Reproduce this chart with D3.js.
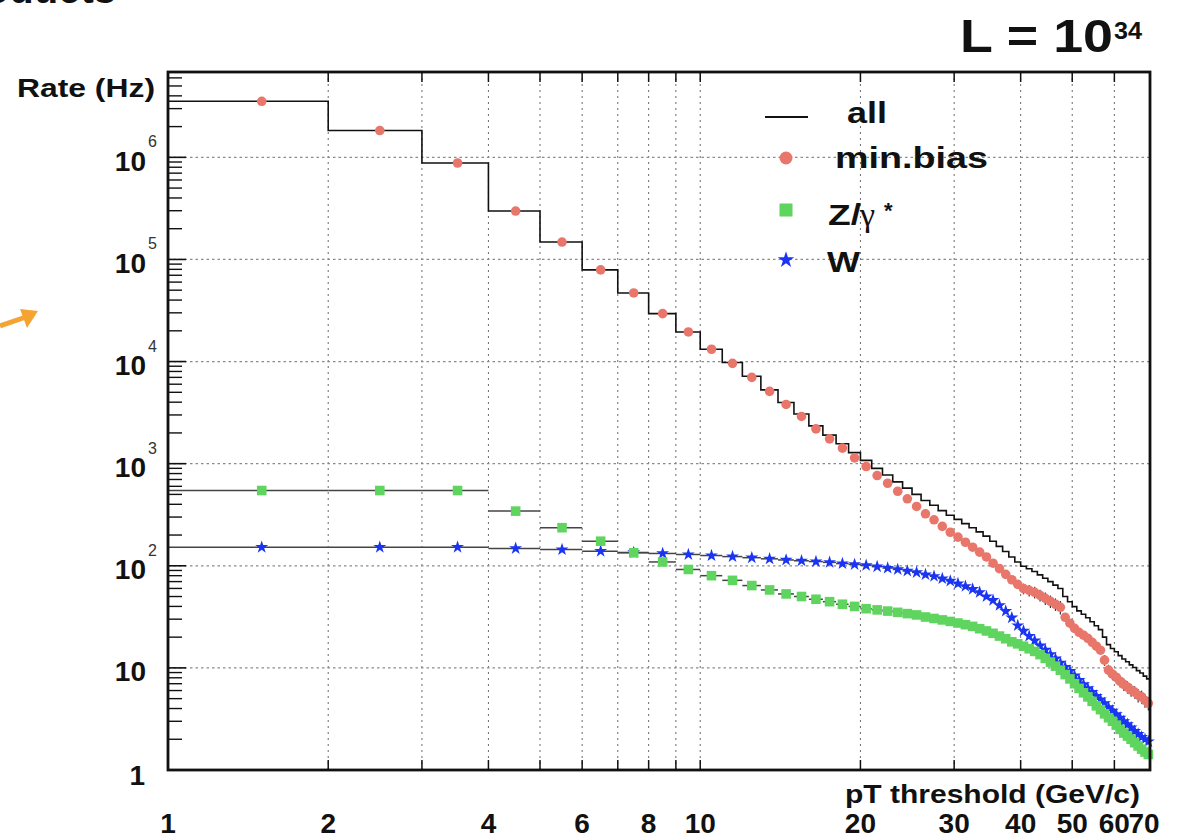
<!DOCTYPE html>
<html><head><meta charset="utf-8">
<script src="https://cdn.jsdelivr.net/npm/d3@7"></script>
<style>
body{margin:0;background:#fff;}
svg{display:block;font-family:"Liberation Sans",Arial,Helvetica,sans-serif;}
</style>
</head><body>
<svg id="c" width="1184" height="838"></svg>
<script>
// ---- data ----
const ptBinCenters = [1.5,2.5,3.5,4.5,5.5,6.5,7.5,8.5,9.5,10.5,
  11.5,12.5,13.5,14.5,15.5,16.5,17.5,18.5,19.5,20.5,
  21.5,22.5,23.5,24.5,25.5,26.5,27.5,28.5,29.5,30.5,
  31.5,32.5,33.5,34.5,35.5,36.5,37.5,38.5,39.5,40.5,
  41.5,42.5,43.5,44.5,45.5,46.5,47.5,48.5,49.5,50.5,
  51.5,52.5,53.5,54.5,55.5,56.5,57.5,58.5,59.5,60.5,
  61.5,62.5,63.5,64.5,65.5,66.5,67.5,68.5,69.5];
const allRate = [3.54e6,1.83e6,8.8e5,2.98e5,1.48e5,7.9e4,4.7e4,2.95e4,1.95e4,1.32e4,
  9800,7180,5275,3967,3062,2347,1902,1567,1283,1076,
  900,774,664,576,500,436,391,347,312,285,
  259,236,215,195,174,155,138,122,109,99,
  93.4,88,81.4,75.4,69.9,64.7,59.9,50.1,44.5,39.8,
  36.2,33.5,31,28.3,25.9,23.7,20,16.9,15.5,14.4,
  13.2,12.2,11.5,10.7,10.1,9.4,8.9,8.3,7.8];
const minBiasRate = [3.54e6,1.83e6,8.8e5,2.98e5,1.48e5,7.9e4,4.7e4,2.95e4,1.95e4,1.32e4,
  9600,7000,5100,3800,2900,2190,1750,1420,1140,937,
  765,643,537,453,381,323,282,243,213,191,
  170,152,136,122,106,93.7,82.4,73,65.8,59.7,
  57.5,55,51.4,48,44.9,42,39.2,31.3,27.4,24.4,
  22.3,20.9,19.5,17.8,16.3,14.9,11.9,9.5,8.7,8.1,
  7.4,6.9,6.5,6.05,5.8,5.4,5.2,4.8,4.5];
// relative statistical error on min.bias (visible only where the hatch shows)
const minBiasRelErr = [0,0,0,0,0,0,0,0,0,0,
  0,0,0,0,0,0,0,0,0,0,
  0,0,0,0,0,0,0,0,0,0,
  0,0,0,0,0,0,0,0,0,0.12,
  0.13,0.13,0.13,0.14,0.14,0.14,0.15,0,0,0,
  0,0,0,0,0,0,0.12,0.13,0.13,0.13,
  0.13,0.14,0.14,0.14,0.14,0.15,0.15,0.15,0.15];
const zGammaRate = [546,546,546,343,236,174,134,109,92,80,
  72,64,58,53,50,47,44.5,42,40,38,
  37,36,35,34,33,31.5,30.5,29.5,28.5,27.5,
  26.5,25.5,24.2,23,21.8,20.5,19.3,18,17.2,16.3,
  15.4,14.5,13.5,12.4,11.4,10.4,9.5,8.6,7.8,7.0,
  6.3,5.7,5.2,4.7,4.25,3.9,3.55,3.25,3.0,2.75,
  2.5,2.3,2.15,2.0,1.85,1.72,1.6,1.5,1.42];
const wRate = [152,152,152,148,144,139,135,132,129,126,
  123,120,117,114,112,110,108,105,103,101,
  98,95,92,89,86,82,79,75,71,67,
  63,59,55,50,46,41,36,31,26,23,
  20.5,18.5,16.5,15,13.6,12.3,11.2,10.2,9.3,8.4,
  7.6,6.9,6.3,5.8,5.3,4.9,4.5,4.1,3.8,3.5,
  3.25,3.0,2.8,2.6,2.4,2.25,2.1,2.0,1.9];
const xTickLabels = [1,2,4,6,8,10,20,30,40,50,60,70];
const xGridValues = [2,3,4,5,6,7,8,9,10,20,30,40,50,60];
const yDecades = [1,10,100,1e3,1e4,1e5,1e6];
const binHalfWidth = 0.5;

// ---- layout ----
const svg = d3.select("#c");
const X0 = 168, X1 = 1150, Y0 = 72, Y1 = 770;
const x = d3.scaleLog().domain([1, 70]).range([X0, X1]);
const y = d3.scaleLog().domain([1, 6.85e6]).range([Y1, Y0]);

const col = {minb: "#e8766a", z: "#5fd55f", w: "#1a34f5"};

// background slide fragments
svg.append("text").attr("x", 116).attr("y", 3).attr("text-anchor", "end")
  .attr("font-size", 40).attr("font-weight", "bold").attr("fill", "#111").text("roducts");
svg.append("path").attr("d", "M0,326 L26,317").attr("stroke", "#f6a431")
  .attr("stroke-width", 5).attr("fill", "none");
svg.append("path").attr("d", "M38,311 L20,309 L27,328 Z").attr("fill", "#f6a431");

// grid
const grid = svg.append("g");
xGridValues.forEach(v => {
  grid.append("line").attr("x1", x(v)).attr("x2", x(v)).attr("y1", Y0).attr("y2", Y1)
    .attr("stroke", "#6a6a6a").attr("stroke-width", 1).attr("stroke-dasharray", "2,4");
});
yDecades.slice(1).forEach(v => {
  grid.append("line").attr("x1", X0).attr("x2", X1).attr("y1", y(v)).attr("y2", y(v))
    .attr("stroke", "#8a8a8a").attr("stroke-width", 1.2).attr("stroke-dasharray", "2.5,3");
});

// ticks
const ticks = svg.append("g").attr("stroke", "#111");
for (let d = 0; d <= 6; d++) {
  const base = Math.pow(10, d);
  ticks.append("line").attr("x1", X0).attr("x2", X0 + 18).attr("y1", y(base)).attr("y2", y(base)).attr("stroke-width", 1.6);
  for (let k = 2; k <= 9; k++) {
    const v = k * base;
    if (v > 6.85e6) break;
    ticks.append("line").attr("x1", X0).attr("x2", X0 + 14).attr("y1", y(v)).attr("y2", y(v)).attr("stroke-width", 1.4);
  }
}
xGridValues.forEach(v => {
  ticks.append("line").attr("x1", x(v)).attr("x2", x(v)).attr("y1", Y1).attr("y2", Y1 - 10).attr("stroke-width", 1.5);
  ticks.append("line").attr("x1", x(v)).attr("x2", x(v)).attr("y1", Y0).attr("y2", Y0 + 10).attr("stroke-width", 1.5);
});

// all: step histogram
const stepPts = ptBinCenters.map((c, i) => [c - binHalfWidth, allRate[i]]);
stepPts.push([ptBinCenters[ptBinCenters.length - 1] + binHalfWidth, allRate[allRate.length - 1]]);
svg.append("path").datum(stepPts)
  .attr("d", d3.line().x(d => x(d[0])).y(d => y(d[1])).curve(d3.curveStepAfter))
  .attr("fill", "none").attr("stroke", "#111").attr("stroke-width", 1.6);

// horizontal bin bars for Z and W
function binBars(vals) {
  svg.append("g").selectAll("line").data(vals).join("line")
    .attr("x1", (d, i) => x(ptBinCenters[i] - binHalfWidth))
    .attr("x2", (d, i) => x(ptBinCenters[i] + binHalfWidth))
    .attr("y1", d => y(d)).attr("y2", d => y(d))
    .attr("stroke", "#444").attr("stroke-width", 1.5);
}
binBars(wRate);
binBars(zGammaRate);

// min.bias error bars
svg.append("g").selectAll("line").data(minBiasRate.map((v, i) => [v, minBiasRelErr[i], ptBinCenters[i]]).filter(d => d[1] > 0))
  .join("line")
  .attr("x1", d => x(d[2])).attr("x2", d => x(d[2]))
  .attr("y1", d => y(d[0] * (1 + d[1]))).attr("y2", d => y(d[0] * (1 - d[1])))
  .attr("stroke", "#333").attr("stroke-width", 1.2);

// min.bias circles
svg.append("g").selectAll("circle").data(minBiasRate).join("circle")
  .attr("cx", (d, i) => x(ptBinCenters[i])).attr("cy", d => y(d)).attr("r", 4.8)
  .attr("fill", col.minb);

// W stars
const star = d3.symbol().type(d3.symbolStar).size(52);
svg.append("g").selectAll("path").data(wRate).join("path")
  .attr("d", star)
  .attr("transform", (d, i) => `translate(${x(ptBinCenters[i])},${y(d)})`)
  .attr("fill", col.w);

// Z squares
const sq = d3.symbol().type(d3.symbolSquare).size(92);
svg.append("g").selectAll("path").data(zGammaRate).join("path")
  .attr("d", sq)
  .attr("transform", (d, i) => `translate(${x(ptBinCenters[i])},${y(d)})`)
  .attr("fill", col.z);

// frame
svg.append("rect").attr("x", X0).attr("y", Y0).attr("width", X1 - X0).attr("height", Y1 - Y0)
  .attr("fill", "none").attr("stroke", "#111").attr("stroke-width", 2.8);

// text helper
function txt(str, px, py, size, o = {}) {
  const t = svg.append("text").attr("x", px).attr("y", py).attr("font-size", size)
    .attr("font-weight", o.weight || "bold").attr("fill", o.fill || "#111")
    .attr("text-anchor", o.anchor || "start").text(str);
  if (o.len) t.attr("textLength", o.len).attr("lengthAdjust", "spacingAndGlyphs");
  if (o.family) t.attr("font-family", o.family);
  return t;
}

// y labels
yDecades.forEach((v, i) => {
  const ty = y(v);
  if (i === 0) { txt("1", 145, ty + 15, 28, {anchor: "end"}); return; }
  txt("10", 146, ty + 13.5, 28, {anchor: "end"});
  if (i >= 2) txt(String(i), 148, ty - 10, 16, {weight: "normal", fill: "#333"});
});
txt("Rate (Hz)", 17, 97, 26, {len: 138});

// x labels
xTickLabels.forEach(v => {
  txt(String(v), x(v) + (v === 70 ? -6 : 0), 833, 28, {anchor: "middle"});
});
txt("pT threshold (GeV/c)", 845, 803, 25, {len: 295});

// luminosity
txt("L = 10", 960, 52, 46, {len: 153});
txt("34", 1114, 38.5, 23, {len: 28});

// legend
svg.append("line").attr("x1", 765).attr("x2", 808).attr("y1", 117).attr("y2", 117)
  .attr("stroke", "#111").attr("stroke-width", 2);
txt("all", 847, 123, 30, {len: 40});
svg.append("circle").attr("cx", 786).attr("cy", 158).attr("r", 6.5).attr("fill", col.minb);
txt("min.bias", 835, 168, 30, {len: 153});
svg.append("rect").attr("x", 779.5).attr("y", 203.5).attr("width", 13).attr("height", 13).attr("fill", col.z);
txt("Z/", 828, 225, 30, {len: 33});
txt("γ", 860, 226, 34, {weight: "normal", family: "'Liberation Serif','DejaVu Serif',serif"});
txt("*", 884, 218, 22);
svg.append("path").attr("d", d3.symbol().type(d3.symbolStar).size(85))
  .attr("transform", "translate(786,260)").attr("fill", col.w);
txt("W", 827, 272, 30, {len: 33});
</script>
</body></html>
